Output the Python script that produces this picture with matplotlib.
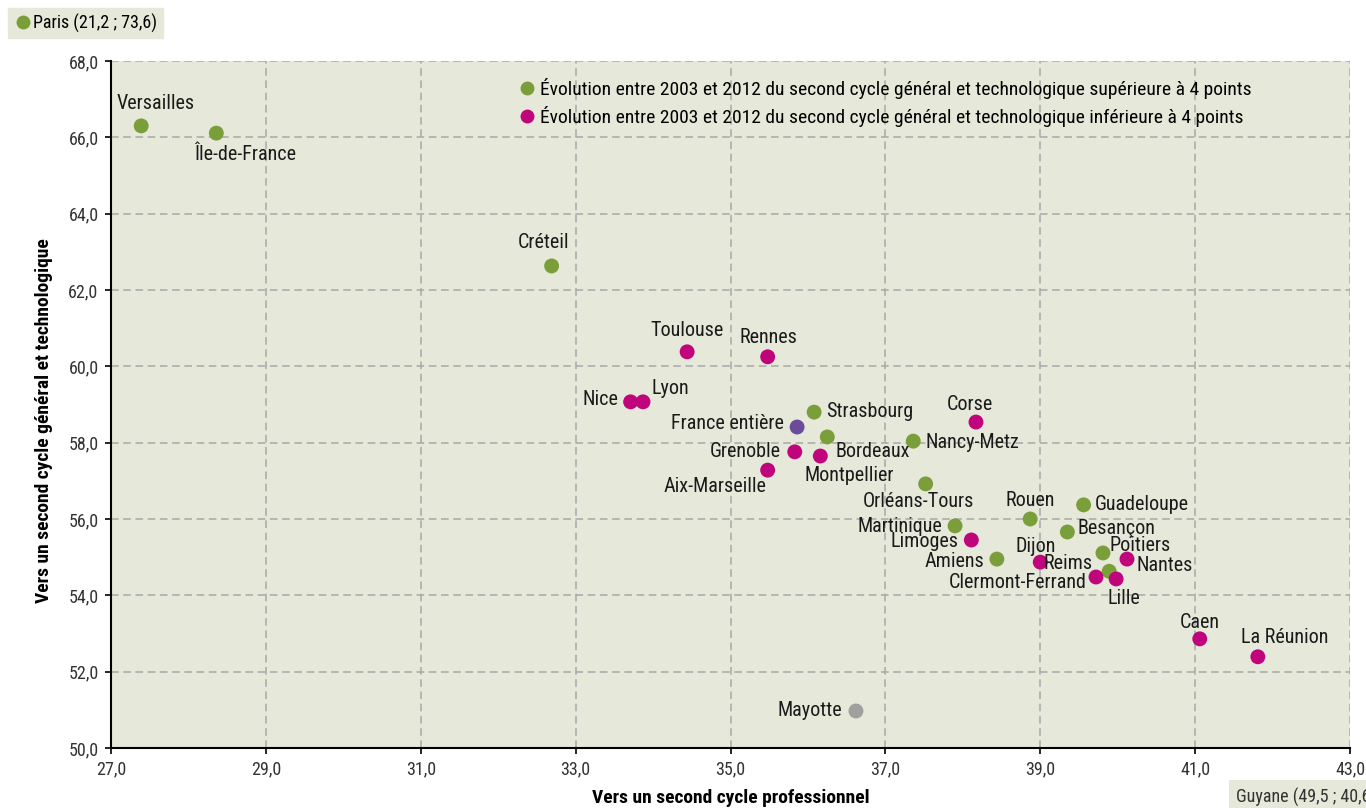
import matplotlib
matplotlib.use("Agg")
import matplotlib.pyplot as plt
from matplotlib.lines import Line2D
from matplotlib.ticker import FixedLocator, FuncFormatter

plt.rcParams['font.family'] = ['Roboto Condensed', 'DejaVu Sans']
plt.rcParams['font.size'] = 13

# données : académies (x = vers second cycle pro, y = vers second cycle GT)
names = ["Versailles", "Île-de-France", "Créteil", "Toulouse", "Rennes", "Nice", "Lyon",
         "France entière", "Strasbourg", "Bordeaux", "Montpellier", "Grenoble", "Aix-Marseille",
         "Corse", "Nancy-Metz", "Orléans-Tours", "Rouen", "Guadeloupe", "Martinique",
         "Besançon", "Limoges", "Amiens", "Dijon", "Reims", "Poitiers", "Nantes",
         "Clermont-Ferrand", "Lille", "Caen", "La Réunion", "Mayotte"]
x_pro = [27.39, 28.36, 32.69, 34.44, 35.48, 33.71, 33.87,
         35.86, 36.08, 36.25, 36.16, 35.83, 35.48,
         38.17, 37.36, 37.52, 38.87, 39.56, 37.90,
         39.35, 38.11, 38.44, 39.00, 39.89, 39.81, 40.12,
         39.72, 39.98, 41.06, 41.81, 36.62]
y_gt = [66.30, 66.11, 62.63, 60.38, 60.25, 59.07, 59.07,
        58.41, 58.80, 58.15, 57.65, 57.76, 57.28,
        58.54, 58.04, 56.92, 56.00, 56.37, 55.82,
        55.66, 55.45, 54.95, 54.87, 54.63, 55.11, 54.95,
        54.48, 54.43, 52.86, 52.39, 50.97]
# g = évolution > 4 points, m = < 4 points, f = France, n = non renseigné
groups = ["g", "g", "g", "m", "m", "m", "m",
          "f", "g", "g", "m", "m", "m",
          "m", "g", "g", "g", "g", "g",
          "g", "m", "g", "m", "g", "g", "m",
          "m", "m", "m", "m", "n"]

paris = ("Paris", 21.2, 73.6)
guyane = ("Guyane", 49.5, 40.6)

x_ticks = [27, 29, 31, 33, 35, 37, 39, 41, 43]
y_ticks = [50, 52, 54, 56, 58, 60, 62, 64, 66, 68]

legend_labels = ["Évolution entre 2003 et 2012 du second cycle général et technologique supérieure à 4 points",
                 "Évolution entre 2003 et 2012 du second cycle général et technologique inférieure à 4 points"]

colors = {"g": "#7a9e3a", "m": "#c0047c", "f": "#6b4c9a", "n": "#a0a0a0"}
bg = "#e6e8d9"

# position des étiquettes (décalage en pixels, alignement)
label_pos = {
    "Versailles": (14, 22, "center"), "Île-de-France": (29, -21, "center"),
    "Créteil": (-8, 23, "center"), "Toulouse": (0, 21, "center"), "Rennes": (1, 19, "center"),
    "Nice": (-12, 2, "right"), "Lyon": (9, 13, "left"), "France entière": (-13, 4, "right"),
    "Strasbourg": (12, 1, "left"), "Bordeaux": (8, -15, "left"), "Montpellier": (29, -19, "center"),
    "Grenoble": (-14, 0, "right"), "Aix-Marseille": (-1, -16, "right"), "Corse": (-6, 18, "center"),
    "Nancy-Metz": (12, -1, "left"), "Orléans-Tours": (-7, -18, "center"), "Rouen": (0, 19, "center"),
    "Guadeloupe": (11, 0, "left"), "Martinique": (-13, -1, "right"), "Besançon": (10, 3, "left"),
    "Limoges": (-13, -2, "right"), "Amiens": (-13, -2, "right"), "Dijon": (-5, 16, "center"),
    "Reims": (-17, 8, "right"), "Poitiers": (7, 7, "left"), "Nantes": (10, -6, "left"),
    "Clermont-Ferrand": (-9, -5, "right"), "Lille": (8, -20, "center"), "Caen": (0, 16, "center"),
    "La Réunion": (27, 19, "center"), "Mayotte": (-14, 0, "right"),
}

fig = plt.figure(figsize=(13.66, 8.08), dpi=100)
ax = fig.add_axes([111 / 1366, 1 - 748 / 808, 1239 / 1366, 687 / 808])
ax.set_facecolor(bg)

ax.scatter(x_pro, y_gt, s=115, c=[colors[g] for g in groups], zorder=3, linewidths=0)

for n, xv, yv in zip(names, x_pro, y_gt):
    dx, dy, ha = label_pos[n]
    ax.annotate(n, (xv, yv), xytext=(dx, dy), textcoords="offset pixels",
                ha=ha, va="center", fontsize=14.5, color="#1a1a1a", zorder=4)

ax.set_xlim(27, 43)
ax.set_ylim(50, 68)
ax.xaxis.set_major_locator(FixedLocator(x_ticks))
ax.yaxis.set_major_locator(FixedLocator(y_ticks))
fmt = FuncFormatter(lambda v, p: f"{v:.1f}".replace(".", ","))
ax.xaxis.set_major_formatter(fmt)
ax.yaxis.set_major_formatter(fmt)
ax.grid(True, color="#a8a8a8", linestyle=(0, (5, 3)), linewidth=1.1, zorder=1)
ax.set_axisbelow(True)
for s in ["top", "right"]:
    ax.spines[s].set_visible(False)
for s in ["left", "bottom"]:
    ax.spines[s].set_linewidth(1.5)
ax.tick_params(direction="out", length=4, width=1.2, labelsize=13, labelcolor="#333333", pad=5)

ax.set_xlabel("Vers un second cycle professionnel", fontweight="bold", fontsize=14)
ax.set_ylabel("Vers un second cycle général et technologique", fontweight="bold", fontsize=14)
ax.xaxis.set_label_coords(0.5, -0.059)
ax.yaxis.set_label_coords(-0.047, 0.476)

handles = [Line2D([], [], marker="o", linestyle="", markersize=10, markerfacecolor=colors[k],
                  markeredgewidth=0) for k in ["g", "m"]]
ax.legend(handles, legend_labels, loc="upper left", bbox_to_anchor=(0.3214, 0.987),
          frameon=False, fontsize=14, handletextpad=0.2, handlelength=1.0,
          labelspacing=0.38, borderaxespad=0)

# académies hors échelle
p = fig.legend([Line2D([], [], marker="o", linestyle="", markersize=10,
                       markerfacecolor=colors["g"], markeredgewidth=0)],
               [f"{paris[0]} ({paris[1]:.1f} ; {paris[2]:.1f})".replace(".", ",")],
               loc="upper left", bbox_to_anchor=(8 / 1366, 1 - 8 / 808), borderaxespad=0,
               fontsize=13, handletextpad=0.0, handlelength=1.1, borderpad=0.3,
               fancybox=False, facecolor=bg, edgecolor=bg, framealpha=1)
fig.text(1236 / 1366, 1 - 797 / 808,
         f"{guyane[0]} ({guyane[1]:.1f} ; {guyane[2]:.1f})".replace(".", ","),
         ha="left", va="center", fontsize=13, color="#333333",
         bbox=dict(boxstyle="square,pad=0.4", facecolor=bg, edgecolor="none"))

fig.savefig("out.png", dpi=100)
